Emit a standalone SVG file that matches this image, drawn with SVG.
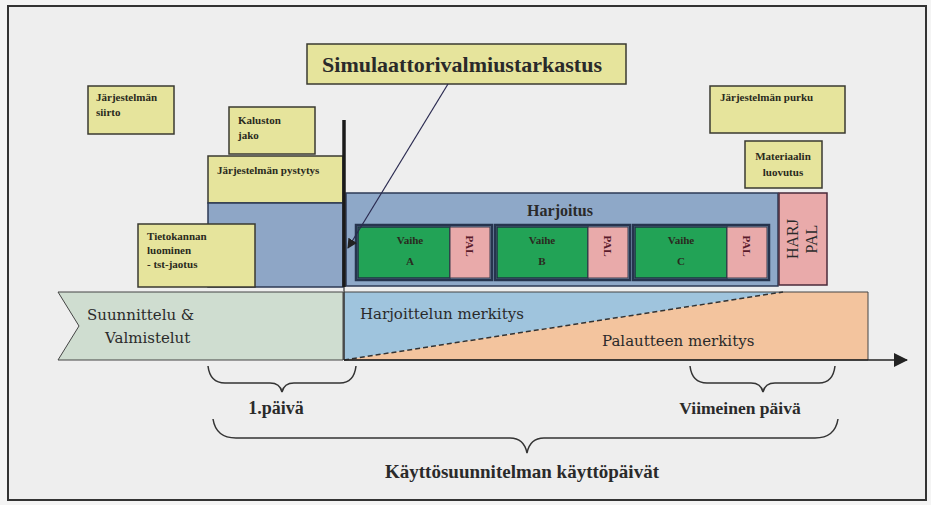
<svg xmlns="http://www.w3.org/2000/svg" width="931" height="505" viewBox="0 0 931 505">
<defs>
<style>
.y{fill:#e6e49c;stroke:#3a3a30;stroke-width:1.5}
.lbl{font-family:"Liberation Serif",serif;font-weight:bold;font-size:11px;fill:#2a2a20}
.big{font-family:"Liberation Serif",serif;fill:#2a2a2a}
.band{font-family:"DejaVu Serif","Liberation Serif",serif;font-size:15px;fill:#2a2a2a}
.grn{fill:#22a356;stroke:#1f3344;stroke-width:1.5}
.pink{fill:#e9aaaa;stroke:#3a3a4a;stroke-width:1}
.pair{fill:none;stroke:#26344e;stroke-width:2.5}
.pal{font-family:"Liberation Serif",serif;font-weight:bold;font-size:11px;fill:#5a1a2a}
.brace{fill:none;stroke:#333;stroke-width:1.5}
</style>
<marker id="ah" markerWidth="10" markerHeight="10" refX="9" refY="5" orient="auto" markerUnits="userSpaceOnUse">
<path d="M0,0 L10,5 L0,10 z" fill="#222"/>
</marker>
<marker id="axis" markerWidth="14" markerHeight="14" refX="13" refY="7" orient="auto" markerUnits="userSpaceOnUse">
<path d="M0,0 L14,7 L0,14 z" fill="#222"/>
</marker>
</defs>
<rect x="0" y="0" width="931" height="505" fill="#f4f4f4"/>
<rect x="8" y="6" width="918" height="494" fill="#eeeeee" stroke="#333" stroke-width="2"/>

<g id="band-suunnittelu">
<polygon points="58,292 343,292 343,360 58,360 79,326" fill="#cfddd0" stroke="#444" stroke-width="1"/>
<text class="band" x="87" y="320">Suunnittelu &amp;</text>
<text class="band" x="105" y="343">Valmistelut</text>
</g>
<g id="band-harjoittelu">
<polygon points="344,292 783,292 344,360" fill="#9fc4dd"/>
<polygon points="344,360 783,292 868,292 868,360" fill="#f3c49e"/>
<polygon points="344,292 868,292 868,360 344,360" fill="none" stroke="#444" stroke-width="1"/>
<text class="band" x="360" y="319">Harjoittelun merkitys</text>
<text class="band" x="602" y="346">Palautteen merkitys</text>
</g>

<g id="jarjestelman-siirto">
<rect class="y" x="88" y="86" width="86" height="48"/>
<text class="lbl" x="96" y="101">Järjestelmän</text>
<text class="lbl" x="96" y="116">siirto</text>
</g>
<g id="kaluston-jako">
<rect class="y" x="229" y="107" width="86" height="47"/>
<text class="lbl" x="238" y="124">Kaluston</text>
<text class="lbl" x="238" y="139">jako</text>
</g>
<g id="jarjestelman-pystytys">
<rect class="y" x="208" y="156" width="135" height="47"/>
<rect x="208" y="203" width="135" height="84" fill="#8ea6c6" stroke="#2c3a55" stroke-width="1.5"/>
<text class="lbl" x="217" y="174">Järjestelmän pystytys</text>
</g>
<g id="tietokanta">
<rect class="y" x="138" y="224" width="117" height="63"/>
<text class="lbl" x="147" y="240">Tietokannan</text>
<text class="lbl" x="147" y="254">luominen</text>
<text class="lbl" x="147" y="268">- tst-jaotus</text>
</g>
<g id="jarjestelman-purku">
<rect class="y" x="710" y="86" width="135" height="47"/>
<text class="lbl" x="720" y="101">Järjestelmän purku</text>
</g>
<g id="materiaalin-luovutus">
<rect class="y" x="745" y="141" width="77" height="47"/>
<text class="lbl" x="783" y="160" text-anchor="middle">Materiaalin</text>
<text class="lbl" x="783" y="176" text-anchor="middle">luovutus</text>
</g>
<g id="simulaattori">
<rect class="y" x="307" y="44" width="319" height="40"/>
<text class="big" x="462" y="72" font-size="22" font-weight="bold" text-anchor="middle">Simulaattorivalmiustarkastus</text>
</g>

<g id="harjoitus">
<rect x="346" y="193" width="432" height="93" fill="#8ea8c8" stroke="#2c3a55" stroke-width="1.5"/>
<text class="big" x="560" y="216" font-size="16" font-weight="bold" text-anchor="middle" fill="#2a3040">Harjoitus</text>
</g>
<g id="vaihe-a">
<rect class="grn" x="358" y="227" width="92" height="51"/>
<rect class="pink" x="450" y="227" width="40" height="51"/>
<rect class="pair" x="356" y="225" width="136" height="55"/>
<text class="lbl" x="410" y="244" text-anchor="middle" fill="#1a2a1a">Vaihe</text>
<text class="lbl" x="410" y="265" text-anchor="middle" fill="#1a2a1a">A</text>
<text class="pal" transform="translate(466,246) rotate(90)" text-anchor="middle">PAL</text>
</g>
<g id="vaihe-b">
<rect class="grn" x="497" y="227" width="91" height="51"/>
<rect class="pink" x="588" y="227" width="40" height="51"/>
<rect class="pair" x="495" y="225" width="135" height="55"/>
<text class="lbl" x="542" y="244" text-anchor="middle" fill="#6e7a3a">Vaihe</text>
<text class="lbl" x="542" y="265" text-anchor="middle" fill="#6e7a3a">B</text>
<text class="pal" transform="translate(604,246) rotate(90)" text-anchor="middle">PAL</text>
</g>
<g id="vaihe-c">
<rect class="grn" x="635" y="227" width="92" height="51"/>
<rect class="pink" x="727" y="227" width="40" height="51"/>
<rect class="pair" x="633" y="225" width="136" height="55"/>
<text class="lbl" x="681" y="244" text-anchor="middle" fill="#3a4a2a">Vaihe</text>
<text class="lbl" x="681" y="265" text-anchor="middle" fill="#6e7a3a">C</text>
<text class="pal" transform="translate(743,246) rotate(90)" text-anchor="middle">PAL</text>
</g>
<g id="harj-pal">
<rect x="779" y="193" width="48" height="92" fill="#e9aaaa" stroke="#4a2a3a" stroke-width="1.5"/>
<text class="big" transform="translate(798,239) rotate(-90)" font-size="16" text-anchor="middle" fill="#5a1a2a">HARJ</text>
<text class="big" transform="translate(817,239) rotate(-90)" font-size="16" text-anchor="middle" fill="#5a1a2a">PAL</text>
</g>

<g id="connectors">
<line x1="344" y1="120" x2="344" y2="287" stroke="#1a1a1a" stroke-width="3.5"/>
<line x1="344" y1="287" x2="344" y2="360" stroke="#333" stroke-width="1.2"/>
<line x1="344" y1="360" x2="783" y2="292" stroke="#333" stroke-width="1.5" stroke-dasharray="5,3"/>
<line x1="448" y1="84" x2="348" y2="248" stroke="#2a2a50" stroke-width="1.2" marker-end="url(#ah)"/>
<line x1="344" y1="360" x2="907" y2="360" stroke="#222" stroke-width="1.5" marker-end="url(#axis)"/>
<path class="brace" d="M208,366 Q210,383 225,383 L270,383 Q280,383 282,392 Q284,383 294,383 L340,383 Q354,383 356,366"/>
<path class="brace" d="M690,366 Q692,383 707,383 L751,383 Q761,383 763,392 Q765,383 775,383 L819,383 Q833,383 835,366"/>
<path class="brace" d="M213,419 Q216,438 236,438 L510,438 Q524,438 527,453 Q530,438 544,438 L815,438 Q835,438 838,419"/>
</g>

<g id="labels">
<text class="big" x="276" y="414" font-size="18" font-weight="bold" text-anchor="middle">1.päivä</text>
<text class="big" x="740" y="414" font-size="17.5" font-weight="bold" text-anchor="middle">Viimeinen päivä</text>
<text class="big" x="522" y="478" font-size="19" font-weight="bold" text-anchor="middle">Käyttösuunnitelman käyttöpäivät</text>
</g>
</svg>
